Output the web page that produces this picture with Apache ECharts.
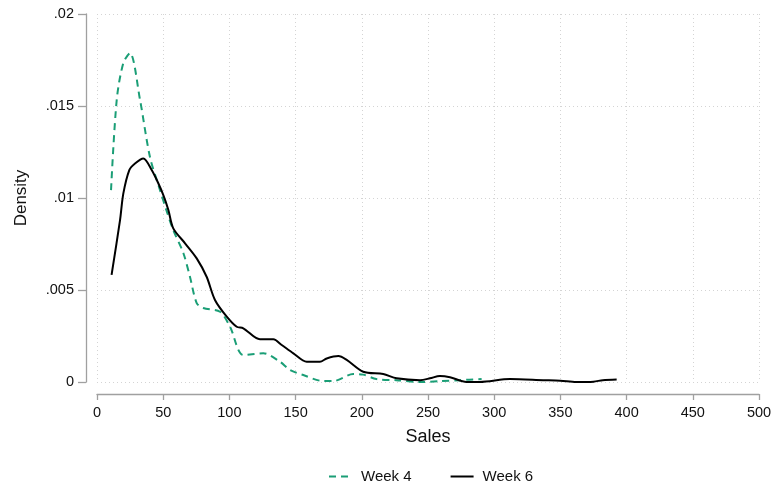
<!DOCTYPE html>
<html><head><meta charset="utf-8">
<script src="https://cdn.jsdelivr.net/npm/echarts@6/dist/echarts.min.js"></script>
<style>html,body{margin:0;padding:0;background:#fff}#c{width:773px;height:492px}</style>
</head><body><div id="c"></div>
<script>
const week4X = [10.6, 14.9, 19.9, 24.9, 32.5, 40, 47.6, 52.6, 57.6, 65.2, 70.2, 75.3, 80.3, 92.9, 100.5, 110.5, 125.6, 138.2, 145.8, 155.8, 171, 178.5, 193.6, 201, 211, 226, 244, 259, 274, 290.5];
const week4Y = [0.01043, 0.01533, 0.01734, 0.01788, 0.01533, 0.01223, 0.01043, 0.0093, 0.00826, 0.00701, 0.00572, 0.00429, 0.00402, 0.00382, 0.003, 0.00147, 0.00156, 0.0011, 0.00065, 0.00038, 0.00005, 0.00005, 0.00043, 0.0004, 0.00016, 0.0001, 0.0, 0.00005, 0.0001, 0.00016];
const week6X = [11, 17.4, 19.9, 24.4, 28.7, 35, 41.3, 46.3, 50.1, 53.9, 57.6, 66.5, 75.3, 82.8, 89.1, 98, 105.5, 110.5, 123.1, 133.2, 139.5, 148.3, 158.4, 168.4, 173.5, 182.3, 188.6, 201.1, 216.2, 226.3, 244, 251.5, 259, 266.6, 279.2, 289, 312, 337, 350, 362, 375, 382, 392.5];
const week6Y = [0.00582, 0.0088, 0.01025, 0.01152, 0.01188, 0.01215, 0.01152, 0.0108, 0.01016, 0.00935, 0.00835, 0.00754, 0.00672, 0.00572, 0.00446, 0.00355, 0.003, 0.00292, 0.00232, 0.00232, 0.00201, 0.00156, 0.0011, 0.0011, 0.00128, 0.00141, 0.0012, 0.00056, 0.00043, 0.0002, 0.0001, 0.0002, 0.00033, 0.00026, 0.0, 0.0, 0.00016, 0.0001, 0.00007, 0.0, 0.00002, 0.0001, 0.00014];
const seriesNames = ['Week 4', 'Week 6'];
const xTicks = {min: 0, max: 500, interval: 50};
const yTicks = {min: 0, max: 0.02, interval: 0.005};

const zip = (a, b) => a.map((v, i) => [v, b[i]]);
const font = '"Liberation Sans", Arial, sans-serif';
const chart = echarts.init(document.getElementById('c'), null, {renderer: 'canvas'});
chart.setOption({
  animation: false,
  backgroundColor: '#fff',
  grid: {left: 97, right: 14, top: 14, bottom: 110, containLabel: false, outerBoundsMode: 'none'},
  xAxis: {
    type: 'value', min: xTicks.min, max: xTicks.max, interval: xTicks.interval,
    offset: 12,
    name: 'Sales', nameLocation: 'middle', nameGap: 34,
    nameTextStyle: {fontFamily: font, fontSize: 18, color: '#111'},
    axisLine: {show: true, onZero: false, lineStyle: {color: '#a0a0a0', width: 1.3}},
    axisTick: {show: true, length: 6, lineStyle: {color: '#a0a0a0', width: 1.3}},
    axisLabel: {fontFamily: font, fontSize: 14.5, color: '#111', margin: 11},
    splitLine: {show: true, lineStyle: {color: '#d4d4d4', type: [1, 3], width: 1}}
  },
  yAxis: {
    type: 'value', min: yTicks.min, max: yTicks.max, interval: yTicks.interval,
    offset: 11,
    name: 'Density', nameLocation: 'middle', nameGap: 56, nameRotate: 90,
    nameTextStyle: {fontFamily: font, fontSize: 17, color: '#111'},
    axisLine: {show: true, onZero: false, lineStyle: {color: '#a0a0a0', width: 1.3}},
    axisTick: {show: true, length: 8, lineStyle: {color: '#a0a0a0', width: 1.3}},
    axisLabel: {fontFamily: font, fontSize: 14.5, color: '#111', margin: 12,
      formatter: v => v === 0 ? '0' : String(+v.toFixed(4)).replace(/^0\./, '.')},
    splitLine: {show: true, lineStyle: {color: '#d4d4d4', type: [1, 3], width: 1}}
  },
  legend: {
    bottom: 3, left: 323, itemGap: 38, itemWidth: 23, itemHeight: 12,
    textStyle: {fontFamily: font, fontSize: 15, color: '#111', padding: [0, 0, 0, 4]},
    itemStyle: {color: 'rgba(0,0,0,0)', borderWidth: 0, opacity: 0},
    data: seriesNames
  },
  series: [
    {name: seriesNames[0], type: 'line', data: zip(week4X, week4Y), showSymbol: false, symbol: 'none', smooth: 0.3,
     lineStyle: {color: '#1a9e76', width: 2, type: [7, 5]}, itemStyle: {color: '#1a9e76'}},
    {name: seriesNames[1], type: 'line', data: zip(week6X, week6Y), showSymbol: false, symbol: 'none', smooth: 0.3,
     lineStyle: {color: '#000', width: 2}, itemStyle: {color: '#000'}}
  ]
});
</script></body></html>
